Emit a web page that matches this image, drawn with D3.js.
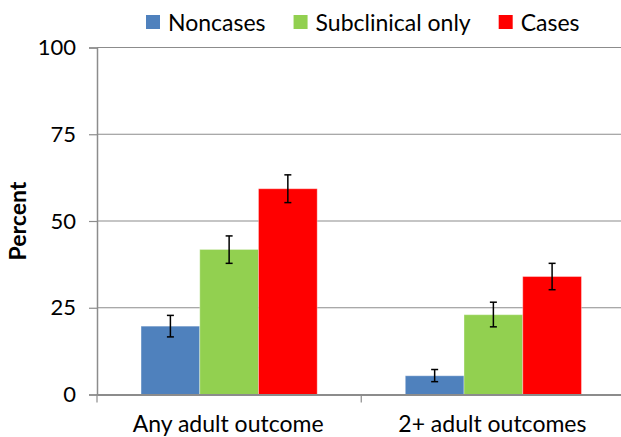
<!DOCTYPE html>
<html>
<head>
<meta charset="utf-8">
<script src="https://cdn.jsdelivr.net/npm/d3@7"></script>
<style>
  html, body { margin: 0; padding: 0; background: #fff; }
  svg { display: block; }
  text { font-family: Lato, "Liberation Sans", sans-serif; fill: #000; }
</style>
</head>
<body>
<svg id="chart" width="621" height="437"></svg>
<script>
// ---- Data ----
const categories = ["Any adult outcome", "2+ adult outcomes"];
const seriesNames = ["Noncases", "Subclinical only", "Cases"];
const seriesColors = ["#4F81BD", "#92D050", "#FF0000"];
const noncases = [19.7, 5.4];
const subclinical = [41.8, 23.0];
const cases = [59.3, 34.0];
const noncasesLow = [16.6, 3.7];
const noncasesHigh = [22.8, 7.2];
const subclinicalLow = [37.8, 19.5];
const subclinicalHigh = [45.7, 26.6];
const casesLow = [55.3, 30.2];
const casesHigh = [63.3, 37.8];
const yTicks = [0, 25, 50, 75, 100];
const yLabel = "Percent";

const values = [noncases, subclinical, cases];
const lows = [noncasesLow, subclinicalLow, casesLow];
const highs = [noncasesHigh, subclinicalHigh, casesHigh];

const rows = [];
categories.forEach((c, ci) => {
  seriesNames.forEach((s, si) => {
    rows.push({ cat: c, series: s, si, value: values[si][ci], lo: lows[si][ci], hi: highs[si][ci] });
  });
});

// ---- Layout ----
const svg = d3.select("#chart");
const plotLeft = 97, plotRight = 625.5, plotTop = 47.5, plotBottom = 394.5;

const x0 = d3.scaleBand().domain(categories).range([plotLeft, plotRight]).paddingInner(0).paddingOuter(0);
const x1 = d3.scaleBand().domain(seriesNames).range([0, x0.bandwidth()]).paddingInner(0).paddingOuter(0.75);
const y = d3.scaleLinear().domain([0, 100]).range([plotBottom, plotTop]);
const color = d3.scaleOrdinal().domain(seriesNames).range(seriesColors);

// gridlines
svg.append("g")
  .selectAll("line")
  .data(yTicks.filter(t => t > 0))
  .join("line")
  .attr("x1", plotLeft).attr("x2", 621)
  .attr("y1", d => y(d)).attr("y2", d => y(d))
  .attr("stroke", "#8c8c8c").attr("stroke-width", 1.2);

// y axis
const yAxis = svg.append("g")
  .attr("transform", `translate(${plotLeft},0)`)
  .call(d3.axisLeft(y).tickValues(yTicks).tickSize(8).tickPadding(13));
yAxis.select(".domain").attr("stroke", "#8c8c8c").attr("stroke-width", 1.5);
yAxis.selectAll(".tick line").attr("stroke", "#8c8c8c").attr("stroke-width", 1.2);
yAxis.selectAll(".tick text")
  .style("font-family", "Lato, 'Liberation Sans', sans-serif")
  .style("font-size", "22px").attr("fill", "#000");

// bars
svg.append("g")
  .selectAll("rect")
  .data(rows)
  .join("rect")
  .attr("x", d => x0(d.cat) + x1(d.series))
  .attr("y", d => y(d.value))
  .attr("width", x1.bandwidth())
  .attr("height", d => y(0) - y(d.value))
  .attr("fill", d => color(d.series))
  .attr("stroke", "rgba(255,255,255,0.35)")
  .attr("stroke-width", 1);

// x axis
const xAxis = svg.append("g")
  .attr("transform", `translate(0,${plotBottom})`)
  .call(d3.axisBottom(x0).tickSize(0).tickFormat(""));
xAxis.select(".domain").attr("stroke", "#8c8c8c").attr("stroke-width", 2.2);
xAxis.selectAll(".tick").remove();
// category boundary ticks
const bounds = categories.map(c => x0(c)).concat([x0(categories[categories.length - 1]) + x0.bandwidth()]);
xAxis.selectAll("line.bound")
  .data(bounds)
  .join("line")
  .attr("class", "bound")
  .attr("x1", d => d).attr("x2", d => d)
  .attr("y1", 0).attr("y2", 8)
  .attr("stroke", "#8c8c8c").attr("stroke-width", 1.2);
xAxis.selectAll("text.cat")
  .data(categories)
  .join("text")
  .attr("class", "cat")
  .attr("x", d => x0(d) + x0.bandwidth() / 2 - 1)
  .attr("y", 37)
  .attr("text-anchor", "middle")
  .style("font-size", "23px")
  .text(d => d);

// error bars
const eb = svg.append("g").attr("stroke", "#000").attr("stroke-width", 1.5);
rows.forEach(d => {
  const cx = x0(d.cat) + x1(d.series) + x1.bandwidth() / 2;
  eb.append("line").attr("x1", cx).attr("x2", cx).attr("y1", y(d.hi)).attr("y2", y(d.lo));
  eb.append("line").attr("x1", cx - 3.5).attr("x2", cx + 3.5).attr("y1", y(d.hi)).attr("y2", y(d.hi));
  eb.append("line").attr("x1", cx - 3.5).attr("x2", cx + 3.5).attr("y1", y(d.lo)).attr("y2", y(d.lo));
});

// y label
svg.append("text")
  .attr("transform", `translate(26,${(plotTop + plotBottom) / 2}) rotate(-90)`)
  .attr("text-anchor", "middle")
  .style("font-size", "23px")
  .style("font-weight", "bold")
  .text(yLabel);

// legend
const legend = svg.append("g");
let lx = 146;
seriesNames.forEach((s, i) => {
  legend.append("rect")
    .attr("x", lx).attr("y", 15).attr("width", 14).attr("height", 14)
    .attr("fill", color(s));
  const t = legend.append("text")
    .attr("x", lx + 22).attr("y", 30.5)
    .style("font-size", "23px")
    .text(s);
  lx += 22 + t.node().getComputedTextLength() + 28;
});
</script>
</body>
</html>
